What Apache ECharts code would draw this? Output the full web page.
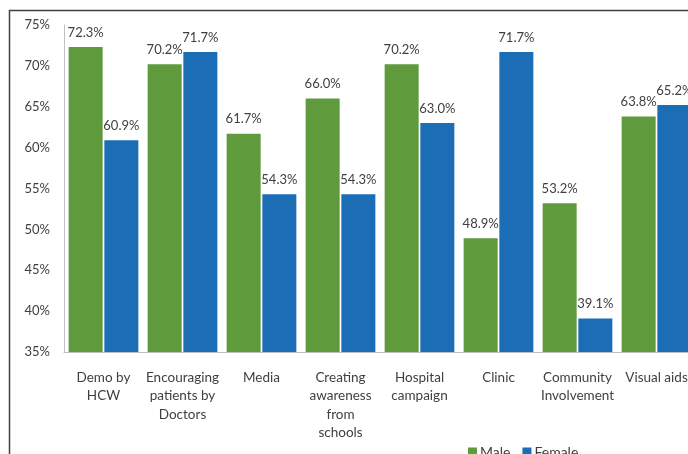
<!DOCTYPE html>
<html><head><meta charset="utf-8">
<script src="https://cdn.jsdelivr.net/npm/echarts@6/dist/echarts.min.js"></script>
<style>html,body{margin:0;padding:0;background:#fff;overflow:hidden;width:688px;height:454px}#c{width:700px;height:454px}</style>
</head><body><div id="c"></div>
<script>
const categories = ["Demo by\nHCW","Encouraging\npatients by\nDoctors","Media","Creating\nawareness\nfrom\nschools","Hospital\ncampaign","Clinic","Community\nInvolvement","Visual aids"];
const maleValues = [72.3,70.2,61.7,66.0,70.2,48.9,53.2,63.8];
const femaleValues = [60.9,71.7,54.3,54.3,63.0,71.7,39.1,65.2];
const yTicks = {min:35,max:75,interval:5};
const FONT = 'Lato';
const chart = echarts.init(document.getElementById('c'));
const lbl = {show:true,position:'top',distance:8,color:'#404040',fontFamily:FONT,fontSize:13,formatter:p=>p.value.toFixed(1)+'%'};
chart.setOption({
  animation:false,
  textStyle:{fontFamily:FONT},
  graphic:[{type:'polyline',shape:{points:[[9.5,454],[9.5,10.5],[700,10.5]]},style:{stroke:'#404040',lineWidth:1.5,fill:null}}],
  grid:{left:64,top:25,bottom:102,right:4},
  legend:{left:463,top:440,itemWidth:9,itemHeight:9,itemGap:12,icon:'rect',textStyle:{color:'#404040',fontSize:14,fontFamily:FONT,padding:[0,0,0,-2]},data:['Male','Female']},
  xAxis:{type:'category',data:categories,axisTick:{show:false},axisLine:{lineStyle:{color:'#bfbfbf'}},
    axisLabel:{interval:0,color:'#404040',fontSize:13.5,fontFamily:FONT,lineHeight:18.5,margin:16}},
  yAxis:{type:'value',min:yTicks.min,max:yTicks.max,interval:yTicks.interval,splitLine:{show:false},
    axisLine:{show:true,lineStyle:{color:'#bfbfbf'}},axisTick:{show:false},
    axisLabel:{formatter:'{value}%',color:'#404040',fontSize:13,fontFamily:FONT,margin:14}},
  series:[
    {name:'Male',type:'bar',data:maleValues,barWidth:34,barGap:'5%',itemStyle:{color:'#5f9a3c'},label:lbl},
    {name:'Female',type:'bar',data:femaleValues,barWidth:34,itemStyle:{color:'#1b6db6'},label:lbl}
  ]
});
</script></body></html>
